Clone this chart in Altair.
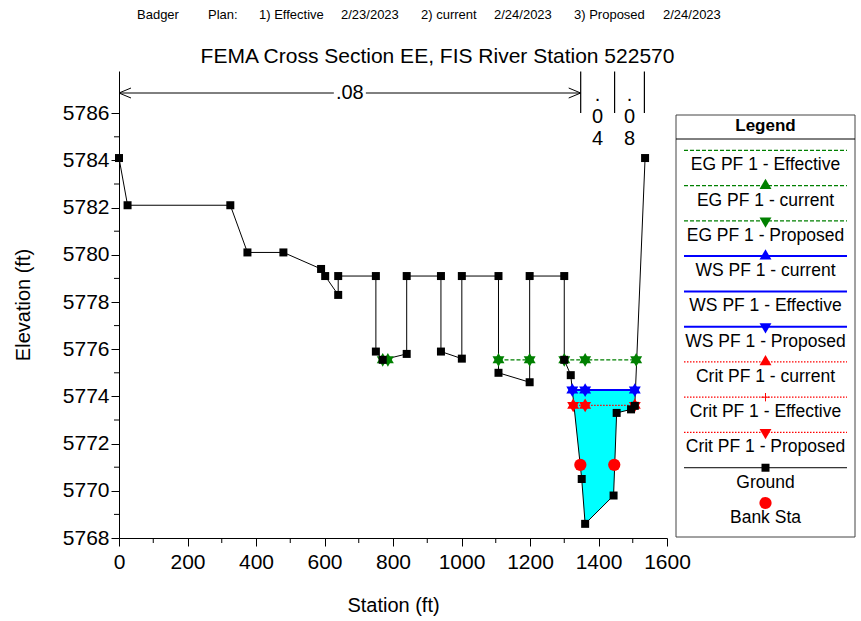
import altair as alt
import numpy as np
import pandas as pd

FONT = "Liberation Sans, Arial, Helvetica, sans-serif"

# ---------------- data ----------------
ground_sta = [0, 25, 325, 375, 480, 590, 602, 640, 640, 750, 750, 770, 840, 840,
              940, 940, 1001, 1001, 1108, 1108, 1199, 1199, 1300, 1300, 1319,
              1351, 1361, 1444, 1453, 1495, 1506, 1536]
ground_elev = [5784.1, 5782.1, 5782.1, 5780.1, 5780.1, 5779.4, 5779.1, 5778.3,
               5779.1, 5779.1, 5775.9, 5775.55, 5775.8, 5779.1, 5779.1, 5775.9,
               5775.6, 5779.1, 5779.1, 5775.0, 5774.6, 5779.1, 5779.1, 5775.55,
               5774.9, 5770.5, 5768.6, 5769.8, 5773.3, 5773.45, 5773.6, 5784.1]

bank_sta = [1347, 1446]
bank_elev = [5771.1, 5771.1]

eg_elev = 5775.55
eg_segments = [[770, 785], [1108, 1199], [1300, 1361, 1510]]
ws_elev = 5774.27
ws_sta = [1323.5, 1361, 1506]
crit_elev = 5773.62
crit_sta = [1326, 1361, 1506]

n_break_sta = [0, 1348, 1447, 1534]
n_values = [".08", ".04", ".08"]

x_major_ticks = [0, 200, 400, 600, 800, 1000, 1200, 1400, 1600]
x_minor_ticks = [100, 300, 500, 700, 900, 1100, 1300, 1500]
y_major_ticks = [5768, 5770, 5772, 5774, 5776, 5778, 5780, 5782, 5784, 5786]
y_minor_ticks = [5769, 5771, 5773, 5775, 5777, 5779, 5781, 5783, 5785]

header_parts = ["Badger", "Plan:", "1) Effective", "2/23/2023", "2) current",
                "2/24/2023", "3) Proposed", "2/24/2023"]
header_x = [137, 208, 259, 341, 421, 494, 574, 663]
title_text = "FEMA Cross Section EE, FIS River Station 522570"

legend_items = [
    ("EG PF 1 - Effective", "eg", None),
    ("EG PF 1 - current", "eg", "up"),
    ("EG PF 1 - Proposed", "eg", "down"),
    ("WS PF 1 - current", "ws", "up"),
    ("WS PF 1 - Effective", "ws", None),
    ("WS PF 1 - Proposed", "ws", "down"),
    ("Crit PF 1 - current", "crit", "up"),
    ("Crit PF 1 - Effective", "crit", "plus"),
    ("Crit PF 1 - Proposed", "crit", "down"),
    ("Ground", "ground", "square"),
    ("Bank Sta", None, "circle"),
]

# ---------------- layout ----------------
W, H = 548, 467
PADL, PADT = 119, 71
PX_PER_FT_Y = 23.6
x_dom = [0, 1600]
y_dom = [5768, 5768 + H / PX_PER_FT_Y]
ft_per_px = (x_dom[1] - x_dom[0]) / W
TRI = 190
# triangles centred on their centroid so that up+down overlap as a star
TRI_UP = "M0,-1L0.866,0.5L-0.866,0.5Z"
TRI_DOWN = "M0,1L0.866,-0.5L-0.866,-0.5Z"
SHAPES = {"up": TRI_UP, "down": TRI_DOWN}

STYLES = {
    "eg": dict(color="#008000", strokeWidth=1.2, strokeDash=[4, 2]),
    "ws": dict(color="#0000ff", strokeWidth=2),
    "crit": dict(color="#ff0000", strokeWidth=1.2, strokeDash=[1.5, 1.5]),
    "ground": dict(color="black", strokeWidth=1),
}
MCOLOR = {"eg": "#008000", "ws": "#0000ff", "crit": "#ff0000", "ground": "black", None: "#ff0000"}
PLUS = "M-1,0L1,0M0,-1L0,1"

xs = alt.Scale(domain=x_dom, nice=False, zero=False)
ys = alt.Scale(domain=y_dom, nice=False, zero=False)

x_axis = alt.Axis(values=x_major_ticks, format="d", tickSize=8, labelPadding=5,
                  labelFontSize=21, labelFont=FONT, labelColor="black", labelFlush=False,
                  title="Station (ft)", titleFontSize=20, titleFont=FONT,
                  titleFontWeight="normal", titleColor="black", titleX=W / 2, titleY=67,
                  titleBaseline="middle", grid=False, domainColor="black",
                  tickColor="black")
y_axis = alt.Axis(values=y_major_ticks, format="d", tickSize=8, labelPadding=2,
                  labelFontSize=21, labelFont=FONT, labelColor="black", labelFlush=False,
                  title="Elevation (ft)", titleFontSize=20, titleFont=FONT,
                  titleFontWeight="normal", titleColor="black", titleX=-96, titleY=H / 2,
                  titleAngle=-90, titleBaseline="middle", grid=False,
                  domainColor="black", tickColor="black")

one = alt.Data(values=[{"k": 1}])

layers = []

# water fill between WS and ground
ch_idx = [i for i in range(len(ground_sta)) if i >= 23]
ch_sta = [ground_sta[i] for i in ch_idx]
ch_el = [ground_elev[i] for i in ch_idx]
fill_x = [ws_sta[0]] + [s for s in ch_sta if ws_sta[0] < s < ws_sta[-1]] + [ws_sta[-1]]
fill_g = list(np.interp(fill_x, ch_sta, ch_el))
fill_df = pd.DataFrame({"sta": fill_x, "elev": [ws_elev] * len(fill_x), "elev2": fill_g})
layers.append(alt.Chart(fill_df).mark_area(color="#00ffff", opacity=1).encode(
    x=alt.X("sta:Q", scale=xs), y=alt.Y("elev:Q", scale=ys), y2="elev2:Q"))

# minor ticks
layers.append(alt.Chart(pd.DataFrame({"sta": x_minor_ticks})).mark_rule(color="black").encode(
    x=alt.X("sta:Q", scale=xs), y=alt.value(H), y2=alt.value(H + 5)))
layers.append(alt.Chart(pd.DataFrame({"elev": y_minor_ticks})).mark_rule(color="black").encode(
    y=alt.Y("elev:Q", scale=ys), x=alt.value(-5), x2=alt.value(0)))

# ground line
gdf = pd.DataFrame({"sta": ground_sta, "elev": ground_elev, "i": range(len(ground_sta))})
layers.append(alt.Chart(gdf).mark_line(**STYLES["ground"]).encode(
    x=alt.X("sta:Q", scale=xs, axis=x_axis), y=alt.Y("elev:Q", scale=ys, axis=y_axis),
    order="i:Q"))

# EG / WS / Crit lines
eg_rows = []
for k, seg in enumerate(eg_segments):
    for s in seg:
        eg_rows.append({"sta": s, "elev": eg_elev, "seg": k})
egdf = pd.DataFrame(eg_rows)
wsdf = pd.DataFrame({"sta": ws_sta, "elev": [ws_elev] * len(ws_sta), "seg": 0})
crdf = pd.DataFrame({"sta": crit_sta, "elev": [crit_elev] * len(crit_sta), "seg": 0})

for df, key in [(egdf, "eg"), (wsdf, "ws"), (crdf, "crit")]:
    layers.append(alt.Chart(df).mark_line(**STYLES[key]).encode(
        x=alt.X("sta:Q", scale=xs), y=alt.Y("elev:Q", scale=ys), detail="seg:N"))

for df, key in [(egdf, "eg"), (wsdf, "ws"), (crdf, "crit")]:
    for shp in ["up", "down"]:
        layers.append(alt.Chart(df).mark_point(shape=SHAPES[shp], filled=True, size=TRI,
                                               color=MCOLOR[key], opacity=1,
                                               strokeWidth=0).encode(
            x=alt.X("sta:Q", scale=xs), y=alt.Y("elev:Q", scale=ys)))
layers.append(alt.Chart(crdf).mark_point(shape=PLUS, filled=False, size=70,
                                         color="#ff0000", strokeWidth=1, opacity=1).encode(
    x=alt.X("sta:Q", scale=xs), y=alt.Y("elev:Q", scale=ys)))

# ground squares
layers.append(alt.Chart(gdf).mark_point(shape="square", filled=True, size=64,
                                        color="black", opacity=1).encode(
    x=alt.X("sta:Q", scale=xs), y=alt.Y("elev:Q", scale=ys)))

# bank stations
bdf = pd.DataFrame({"sta": bank_sta, "elev": bank_elev})
layers.append(alt.Chart(bdf).mark_point(shape="circle", filled=True, size=150,
                                        color="#ff0000", opacity=1).encode(
    x=alt.X("sta:Q", scale=xs), y=alt.Y("elev:Q", scale=ys)))

# ---------------- Manning's n annotation ----------------
ARROW_Y = 22
layers.append(alt.Chart(pd.DataFrame({"sta": n_break_sta[1:]})).mark_rule(
    color="black", strokeWidth=1.2).encode(
    x=alt.X("sta:Q", scale=xs), y=alt.value(0.5), y2=alt.value(42)))

z0, z1 = n_break_sta[0], n_break_sta[1]
mid = (z0 + z1) / 2
gap = 16 * ft_per_px
head = 12 * ft_per_px
arrow_df = pd.DataFrame({"sta": [z0, mid + gap], "sta2": [mid - gap, z1]})
layers.append(alt.Chart(arrow_df).mark_rule(color="black", strokeWidth=1).encode(
    x=alt.X("sta:Q", scale=xs), x2="sta2:Q", y=alt.value(ARROW_Y)))
head_df = pd.DataFrame({"sta": [z0, z1], "sta2": [z0 + head, z1 - head]})
for dy in (-5, 5):
    layers.append(alt.Chart(head_df).mark_rule(color="black", strokeWidth=1).encode(
        x=alt.X("sta:Q", scale=xs), x2="sta2:Q", y=alt.value(ARROW_Y),
        y2=alt.value(ARROW_Y + dy)))
layers.append(alt.Chart(pd.DataFrame({"sta": [mid], "t": [n_values[0]]})).mark_text(
    fontSize=20, font=FONT, color="black", baseline="middle", align="center").encode(
    x=alt.X("sta:Q", scale=xs), y=alt.value(ARROW_Y), text="t:N"))
stk = pd.DataFrame({
    "sta": [(n_break_sta[i] + n_break_sta[i + 1]) / 2 for i in range(1, len(n_values))],
    "t": ["\n".join(list(v)) for v in n_values[1:]],
})
layers.append(alt.Chart(stk).mark_text(
    fontSize=20, font=FONT, color="black", baseline="alphabetic", align="center",
    lineBreak="\n", lineHeight=22).encode(
    x=alt.X("sta:Q", scale=xs), y=alt.value(30), text="t:N"))


# ---------------- titles ----------------
def txt(text, x, y, size, weight="normal", align="center"):
    return alt.Chart(one).mark_text(text=text, fontSize=size, font=FONT, color="black",
                                    fontWeight=weight, align=align,
                                    baseline="middle").encode(
        x=alt.value(x), y=alt.value(y))


for t, hx in zip(header_parts, header_x):
    layers.append(txt(t, hx - PADL, 15 - PADT, 13, align="left"))
layers.append(txt(title_text, 437.5 - PADL, 57 - PADT, 21))

# ---------------- legend ----------------
LX0, LX1, LY0, LY1 = 676 - PADL, 855 - PADL, 115 - PADT, 537 - PADT
layers.append(alt.Chart(one).mark_rect(fill="white", stroke="#444444", strokeWidth=1).encode(
    x=alt.value(LX0), x2=alt.value(LX1), y=alt.value(LY0), y2=alt.value(LY1)))
layers.append(txt("Legend", (LX0 + LX1) / 2, 125.5 - PADT, 17, weight="bold"))
layers.append(alt.Chart(one).mark_rule(color="black", strokeWidth=1).encode(
    x=alt.value(LX0), x2=alt.value(LX1), y=alt.value(139 - PADT)))
line_x0, line_x1, mark_x = 684 - PADL, 847 - PADL, 765.5 - PADL
step = 35.27
for i, (label, style, shape) in enumerate(legend_items):
    ly = 150.3 - PADT + i * step
    if style is not None:
        layers.append(alt.Chart(one).mark_rule(**STYLES[style]).encode(
            x=alt.value(line_x0), x2=alt.value(line_x1), y=alt.value(ly)))
    if shape is not None:
        col = MCOLOR[style]
        if shape == "plus":
            m = alt.Chart(one).mark_point(shape=PLUS, filled=False, size=70, color=col,
                                          strokeWidth=1, opacity=1)
        elif shape == "circle":
            m = alt.Chart(one).mark_point(shape="circle", filled=True, size=150,
                                          color=col, opacity=1)
        elif shape == "square":
            m = alt.Chart(one).mark_point(shape="square", filled=True, size=64,
                                          color=col, opacity=1)
        else:
            m = alt.Chart(one).mark_point(shape=SHAPES[shape], filled=True, size=TRI,
                                          color=col, opacity=1, strokeWidth=0)
        layers.append(m.encode(x=alt.value(mark_x), y=alt.value(ly)))
    layers.append(txt(label, (LX0 + LX1) / 2, ly + 15, 17.5))

chart = alt.layer(*layers).properties(
    width=W, height=H,
    autosize=alt.AutoSizeParams(type="none"),
    padding={"left": PADL, "top": PADT, "right": 861 - PADL - W, "bottom": 621 - PADT - H},
    background="white",
).configure_view(stroke=None)

chart.save("out.html", embed_options={"renderer": "svg", "actions": False})
